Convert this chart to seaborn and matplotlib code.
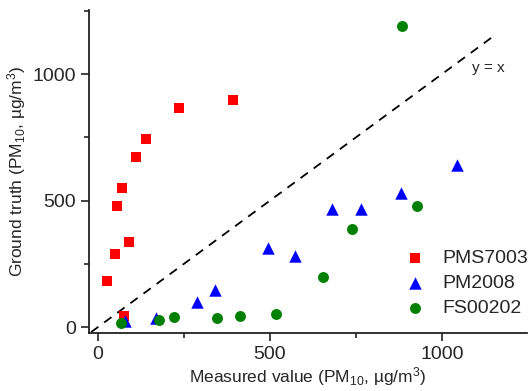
import numpy as np
import pandas as pd
import matplotlib
matplotlib.use("Agg")
import matplotlib.pyplot as plt
from matplotlib.ticker import MultipleLocator
import seaborn as sns

# values
pms_x = [26, 49, 90, 55, 70, 110, 139, 235, 393, 76]
pms_y = [182, 288, 336, 478, 549, 672, 743, 866, 897, 43]

pm2008_x = [80, 168, 289, 339, 495, 573, 680, 764, 881, 1044]
pm2008_y = [22, 35, 99, 146, 312, 281, 466, 466, 530, 640]

fs_x = [67, 177, 221, 346, 413, 517, 654, 738, 927, 884]
fs_y = [16, 28, 40, 36, 44, 51, 198, 387, 478, 1190]

sensors = ["PMS7003", "PM2008", "FS00202"]
line_x = [-20, 1155]

df = pd.concat([
    pd.DataFrame({"measured": pms_x, "truth": pms_y, "sensor": "PMS7003"}),
    pd.DataFrame({"measured": pm2008_x, "truth": pm2008_y, "sensor": "PM2008"}),
    pd.DataFrame({"measured": fs_x, "truth": fs_y, "sensor": "FS00202"}),
])

sns.set_style("ticks")
plt.rcParams["font.family"] = ["Liberation Sans", "DejaVu Sans"]
plt.rcParams["mathtext.fontset"] = "custom"
plt.rcParams["mathtext.rm"] = "Liberation Sans"
plt.rcParams["mathtext.it"] = "Liberation Sans:italic"

fig = plt.figure(figsize=(5.3, 3.91), dpi=100)
ax = fig.add_axes([0.168, 0.148, 0.826, 0.826])

ax.plot(line_x, line_x, ls=(0, (5, 4)), color="black", lw=1.3, zorder=1)

palette = {"PMS7003": "#ff0000", "PM2008": "#0000ff", "FS00202": "#008000"}
markers = {"PMS7003": "s", "PM2008": "^", "FS00202": "o"}
sizes = {"PMS7003": 48, "PM2008": 80, "FS00202": 62}
for s in sensors:
    sub = df[df["sensor"] == s]
    sns.scatterplot(data=sub, x="measured", y="truth", color=palette[s],
                    marker=markers[s], s=sizes[s], linewidth=0, label=s,
                    ax=ax, zorder=3)

ax.text(1087, 1024, "y = x", fontsize=11, va="center", ha="left")

ax.set_xlim(-26, 1247)
ax.set_ylim(-24, 1253)
ax.xaxis.set_major_locator(MultipleLocator(500))
ax.xaxis.set_minor_locator(MultipleLocator(250))
ax.yaxis.set_major_locator(MultipleLocator(500))
ax.yaxis.set_minor_locator(MultipleLocator(250))
ax.tick_params(which="major", length=6, width=1.2, labelsize=14, color="#222222")
ax.tick_params(which="minor", length=3.5, width=1.2, color="#222222")
for side in ["left", "bottom"]:
    ax.spines[side].set_linewidth(1.3)
    ax.spines[side].set_color("#222222")
sns.despine(ax=ax)

ax.set_xlabel("Measured value (PM$_{10}$, µg/m$^{3}$)", fontsize=12.5, labelpad=1)
ax.set_ylabel("Ground truth (PM$_{10}$, µg/m$^{3}$)", fontsize=12.5, labelpad=3)

ax.legend(loc="lower right", bbox_to_anchor=(1.02, 0.025), frameon=False,
          fontsize=14, handletextpad=0.4, labelspacing=0.38, borderaxespad=0)

fig.savefig("out.png", dpi=100)
